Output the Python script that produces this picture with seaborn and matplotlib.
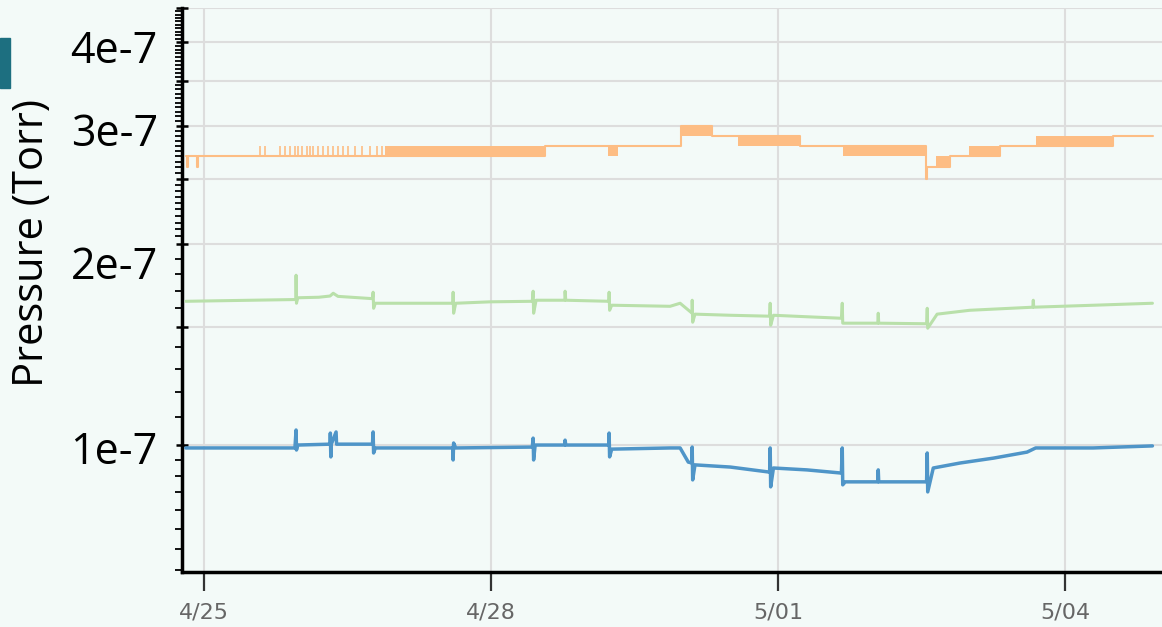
import matplotlib
matplotlib.use("Agg")
import matplotlib.pyplot as plt
from matplotlib.transforms import ScaledTranslation
from matplotlib.patches import Rectangle
import seaborn as sns
import pandas as pd
import numpy as np

START = pd.Timestamp("2021-04-25")

# time in days after 4/25 00:00, pressure in units of 1e-7 Torr
blue_days = [-0.19, 0.95, 0.962, 0.966, 0.98, 1.317, 1.320, 1.325, 1.33, 1.380,
             1.385, 1.76, 1.767, 1.772, 1.79, 2.60, 2.603, 2.608, 2.63, 3.43,
             3.439, 3.444, 3.46, 3.77, 3.773, 3.78, 4.23, 4.233, 4.238, 4.26,
             4.87, 4.975, 5.06, 5.10, 5.101, 5.106, 5.13, 5.5, 5.91, 5.916,
             5.921, 5.95, 6.3, 6.66, 6.669, 6.674, 6.70, 7.04, 7.045, 7.05,
             7.55, 7.557, 7.562, 7.62, 7.90, 8.25, 8.60, 8.69, 8.95, 9.29, 9.91]
blue_vals = [0.990, 0.990, 1.053, 0.983, 1.000, 1.003, 1.042, 0.960, 1.003, 1.046,
             1.003, 1.003, 1.046, 0.973, 0.990, 0.990, 0.950, 1.007, 0.990, 0.993,
             1.024, 0.950, 1.000, 1.000, 1.017, 1.000, 1.000, 1.042, 0.960, 0.986,
             0.990, 0.990, 0.943, 0.940, 0.993, 0.887, 0.934, 0.927, 0.911, 0.990,
             0.866, 0.924, 0.918, 0.908, 0.990, 0.872, 0.881, 0.881, 0.918, 0.881,
             0.881, 0.973, 0.851, 0.924, 0.940, 0.956, 0.976, 0.990, 0.990, 0.990, 0.997]

green_days = [-0.19, 0.5, 0.96, 0.962, 0.966, 0.98, 1.2, 1.317, 1.35, 1.4,
              1.76, 1.767, 1.772, 1.79, 2.6, 2.603, 2.608, 2.63, 2.99, 3.43,
              3.439, 3.444, 3.47, 3.77, 3.773, 3.78, 4.23, 4.233, 4.238, 4.26,
              4.87, 4.975, 5.10, 5.101, 5.106, 5.13, 5.5, 5.91, 5.916, 5.921,
              5.95, 6.3, 6.66, 6.669, 6.674, 6.70, 7.04, 7.045, 7.05, 7.55,
              7.557, 7.562, 7.66, 8.0, 8.66, 8.665, 8.67, 9.3, 9.91]
green_vals = [1.640, 1.646, 1.650, 1.794, 1.629, 1.660, 1.663, 1.670, 1.686, 1.668,
              1.655, 1.692, 1.601, 1.629, 1.629, 1.692, 1.574, 1.629, 1.637, 1.640,
              1.698, 1.574, 1.646, 1.646, 1.698, 1.646, 1.640, 1.692, 1.590, 1.618,
              1.612, 1.629, 1.574, 1.646, 1.526, 1.569, 1.563, 1.558, 1.629, 1.510,
              1.563, 1.555, 1.547, 1.629, 1.521, 1.521, 1.521, 1.574, 1.521, 1.518,
              1.601, 1.495, 1.569, 1.590, 1.607, 1.646, 1.607, 1.618, 1.629]

# orange gauge reads in 0.1e-7 steps
orange_days = [-0.19, -0.18, -0.17, -0.07, -0.06, 3.56, 4.98, 5.31, 6.23, 7.54,
               7.55, 7.80, 8.32, 9.50, 9.92]
orange_vals = [2.7, 2.6, 2.7, 2.6, 2.7, 2.8, 3.0, 2.9, 2.8, 2.5,
               2.6, 2.7, 2.8, 2.9, 2.9]
# stretches where the reading flickers between two levels
band_start = [1.89, 4.22, 4.98, 5.58, 6.68, 7.65, 7.99, 8.69]
band_end = [3.56, 4.33, 5.31, 6.23, 7.54, 7.80, 8.32, 9.50]
band_lo = [2.7, 2.7, 2.9, 2.8, 2.7, 2.6, 2.7, 2.8]
band_hi = [2.8, 2.8, 3.0, 2.9, 2.8, 2.7, 2.8, 2.9]
# single flicker readings up to 2.8 before the dense stretch
flick_days = [0.585, 0.638, 0.794, 0.847, 0.899, 0.951, 0.983, 1.024, 1.077, 1.108,
              1.139, 1.192, 1.244, 1.296, 1.348, 1.401, 1.453, 1.505, 1.578, 1.652,
              1.735, 1.808, 1.861]

xtick_days = [0, 3, 6, 9]
xtick_labels = ["4/25", "4/28", "5/01", "5/04"]
grid_vals = [1.0, 1.5, 2.0, 2.5, 3.0, 3.5, 4.0, 4.5]
grid_labels = ["1e-7", "", "2e-7", "", "3e-7", "", "4e-7", ""]

BG = "#f3faf8"
C_BLUE = "#4f95c8"
C_GREEN = "#b9e0aa"
C_ORANGE = "#fdbd84"


def to_time(days):
    return START + pd.to_timedelta(np.asarray(days, dtype=float), unit="D")


sns.set_style("ticks")
plt.rcParams["font.family"] = ["Open Sans", "DejaVu Sans"]

fig = plt.figure(figsize=(11.62, 6.27), dpi=100, facecolor=BG)
ax = fig.add_axes([182 / 1162, 55 / 627, 980 / 1162, 564 / 627])
ax.set_facecolor(BG)

green = pd.DataFrame({"time": to_time(green_days), "p": np.array(green_vals) * 1e-7})
blue = pd.DataFrame({"time": to_time(blue_days), "p": np.array(blue_vals) * 1e-7})
sns.lineplot(data=green, x="time", y="p", color=C_GREEN, lw=2.2,
             estimator=None, sort=False, ax=ax, zorder=3)
sns.lineplot(data=blue, x="time", y="p", color=C_BLUE, lw=2.5,
             estimator=None, sort=False, ax=ax, zorder=3)

orange = pd.DataFrame({"time": to_time(orange_days), "p": np.array(orange_vals) * 1e-7})
sns.lineplot(data=orange, x="time", y="p", color=C_ORANGE, lw=1.5,
             drawstyle="steps-post", estimator=None, sort=False, ax=ax, zorder=3)
for t0, t1, lo, hi in zip(band_start, band_end, band_lo, band_hi):
    ax.fill_between(to_time([t0, t1]), lo * 1e-7, hi * 1e-7, color=C_ORANGE,
                    lw=0, zorder=3)
ax.vlines(to_time(flick_days), 2.7e-7, 2.8e-7, color=C_ORANGE, lw=1.2, zorder=3)

# axes
ax.set_yscale("log")
ax.set_ylim(0.646e-7, 4.49e-7)
ax.set_xlim(to_time([-0.23])[0], to_time([10.01])[0])

ax.set_yticks(np.array(grid_vals) * 1e-7, grid_labels)
minor = np.concatenate([np.arange(0.65, 1.0, 0.05), np.arange(1.1, 2.0, 0.1),
                        np.arange(2.05, 4.5, 0.05)]) * 1e-7
ax.set_yticks(minor, minor=True)
ax.yaxis.set_minor_formatter(plt.NullFormatter())
ax.tick_params(axis="y", which="major", length=9, width=1.8, direction="inout",
               color="black", labelsize=31, pad=13, labelcolor="black")
ax.tick_params(axis="y", which="minor", length=5, width=1.3, direction="out",
               color="black")

# hand-placed label offsets in the original slide (pixels)
label_shift = {"1e-7": 2, "2e-7": 19, "3e-7": 3, "4e-7": 4}
for lab in ax.get_yticklabels():
    dy = label_shift.get(lab.get_text(), 0)
    lab.set_transform(lab.get_transform() + ScaledTranslation(0, -dy / 100, fig.dpi_scale_trans))

ax.set_xticks(to_time(xtick_days), xtick_labels)
ax.tick_params(axis="x", length=14, width=1.6, direction="out", color="#333333",
               labelsize=16, pad=8, labelcolor="#666666")
for lab in ax.get_xticklabels():
    lab.set_family(["Liberation Sans Narrow", "DejaVu Sans"])

ax.grid(True, which="major", axis="both", color="#dddddd", lw=1.5, zorder=0)
ax.set_axisbelow(True)
ax.set_xlabel("")
ax.set_ylabel("")
for side in ("top", "right"):
    ax.spines[side].set_visible(False)
for side in ("left", "bottom"):
    ax.spines[side].set_color("black")
    ax.spines[side].set_linewidth(2.5)

fig.text(32 / 1162, 1 - 243 / 627, "Pressure (Torr)", rotation=90, fontsize=30,
         ha="center", va="center", color="black")

# slide decoration at the left edge
fig.patches.append(Rectangle((0, 1 - 88 / 627), 10 / 1162, 50 / 627,
                             transform=fig.transFigure, color="#1d6f80", zorder=5))

fig.savefig("out.png", dpi=100, facecolor=BG)
